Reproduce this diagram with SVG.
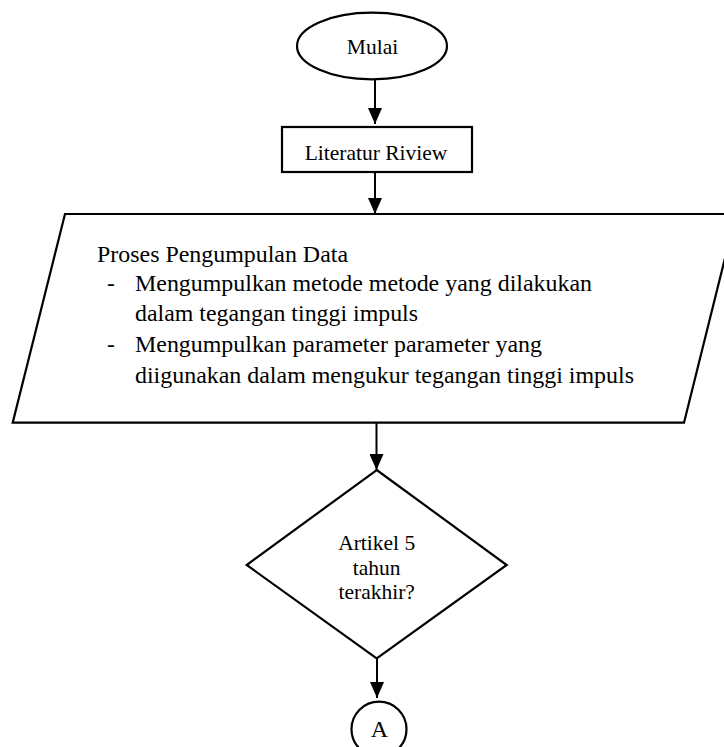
<svg xmlns="http://www.w3.org/2000/svg" width="724" height="747" viewBox="0 0 724 747">
<defs>
<marker id="ah" markerWidth="16" markerHeight="14" refX="16" refY="7" orient="auto" markerUnits="userSpaceOnUse" viewBox="0 0 16 14">
<path d="M0,0 L16,7 L0,14 Z" fill="#000"/>
</marker>
<style>
.s{fill:#fff;stroke:#000;stroke-width:2.2}
.t{font-family:"Liberation Serif","Times New Roman","DejaVu Serif",serif;fill:#000}
.c{stroke:#000;stroke-width:2;fill:none}
</style>
</defs>
<rect width="724" height="747" fill="#fff"/>
<g id="connectors">
<line class="c" x1="375" y1="80" x2="375" y2="124" marker-end="url(#ah)"/>
<line class="c" x1="375" y1="172" x2="375" y2="214" marker-end="url(#ah)"/>
<line class="c" x1="376.5" y1="423" x2="376.5" y2="470" marker-end="url(#ah)"/>
<line class="c" x1="377" y1="659" x2="377" y2="698" marker-end="url(#ah)"/>
</g>
<g id="mulai">
<ellipse class="s" cx="372" cy="46" rx="75" ry="33.3"/>
<text class="t" font-family="Liberation Serif, serif" x="372.5" y="54" font-size="21.5" text-anchor="middle">Mulai</text>
</g>
<g id="literatur">
<rect class="s" x="282" y="127" width="190" height="45"/>
<text class="t" font-family="Liberation Serif, serif" x="376" y="159.5" font-size="21.5" text-anchor="middle">Literatur Riview</text>
</g>
<g id="proses">
<polygon class="s" points="65,214 736,214 684,422.7 12.7,422.7"/>
<text class="t" font-family="Liberation Serif, serif" x="97" y="261.5" font-size="23.5" textLength="251" lengthAdjust="spacingAndGlyphs">Proses Pengumpulan Data</text>
<text class="t" font-family="Liberation Serif, serif" x="107" y="291" font-size="23.5">-</text>
<text class="t" font-family="Liberation Serif, serif" x="135" y="291" font-size="23.5" textLength="457" lengthAdjust="spacingAndGlyphs">Mengumpulkan metode metode yang dilakukan</text>
<text class="t" font-family="Liberation Serif, serif" x="135" y="321" font-size="23.5" textLength="283" lengthAdjust="spacingAndGlyphs">dalam tegangan tinggi impuls</text>
<text class="t" font-family="Liberation Serif, serif" x="107" y="352" font-size="23.5">-</text>
<text class="t" font-family="Liberation Serif, serif" x="135" y="352" font-size="23.5" textLength="407" lengthAdjust="spacingAndGlyphs">Mengumpulkan parameter parameter yang</text>
<text class="t" font-family="Liberation Serif, serif" x="135" y="382.5" font-size="23.5" textLength="499" lengthAdjust="spacingAndGlyphs">diigunakan dalam mengukur tegangan tinggi impuls</text>
</g>
<g id="artikel">
<polygon class="s" points="376.7,470 506.7,565 376.7,658.3 246.7,565"/>
<text class="t" font-family="Liberation Serif, serif" x="376.7" y="550" font-size="21.5" text-anchor="middle">Artikel 5</text>
<text class="t" font-family="Liberation Serif, serif" x="376.7" y="575" font-size="21.5" text-anchor="middle">tahun</text>
<text class="t" font-family="Liberation Serif, serif" x="376.7" y="598.5" font-size="21.5" text-anchor="middle">terakhir?</text>
</g>
<g id="connectorA">
<circle class="s" cx="379" cy="729.2" r="27.5"/>
<text class="t" font-family="Liberation Serif, serif" x="379.5" y="737" font-size="24" text-anchor="middle">A</text>
</g>
</svg>
